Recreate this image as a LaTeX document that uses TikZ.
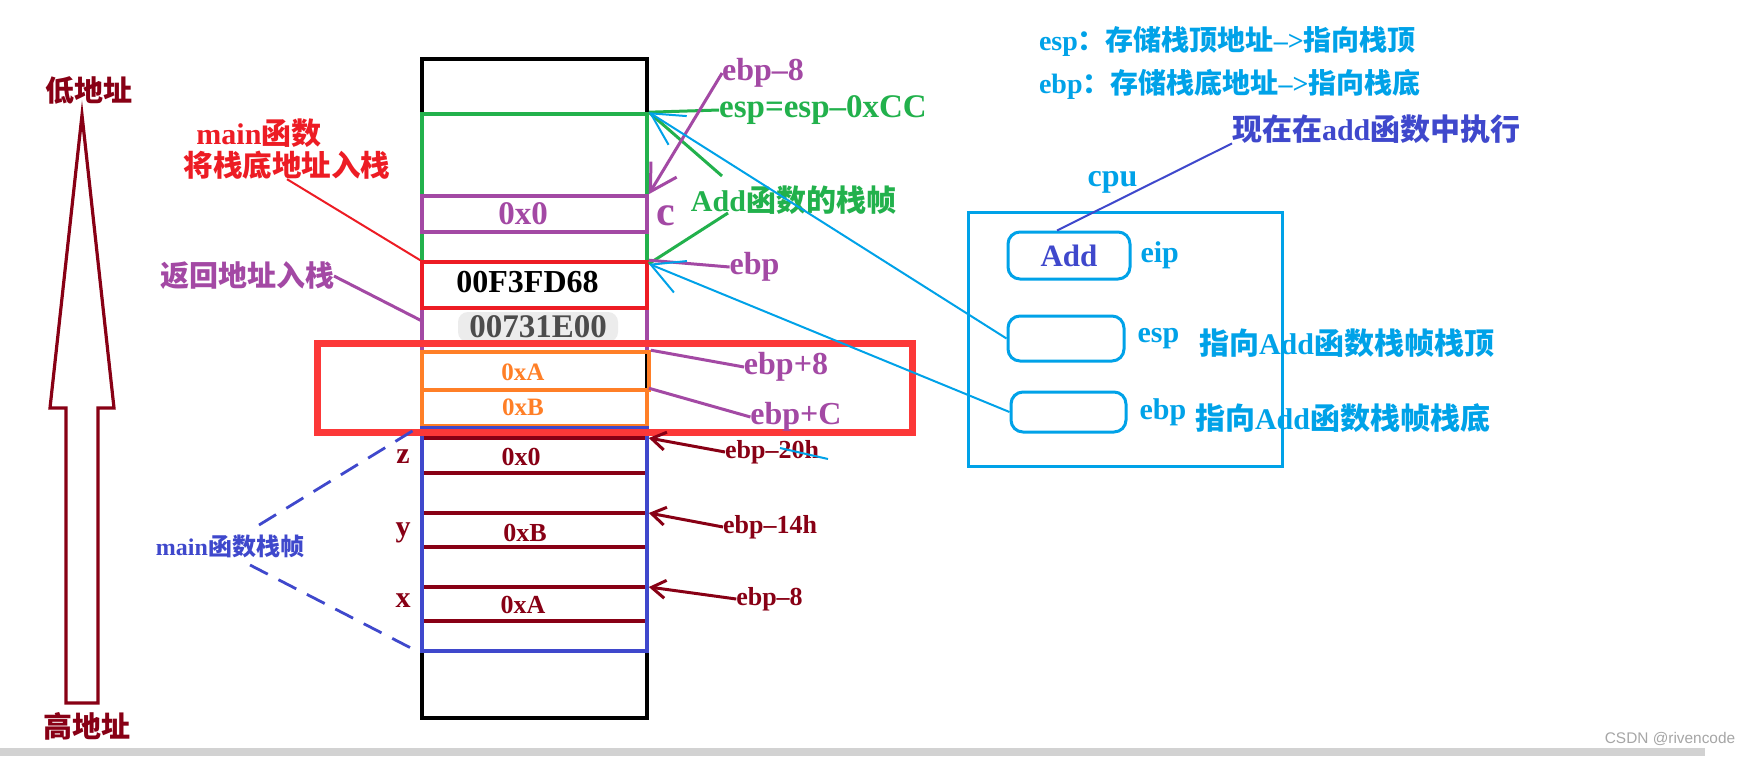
\documentclass[tikz,border=0pt]{standalone}
\usepackage{fontspec}
\usepackage{xcolor}
\usepackage{tikz}
\setmainfont{Liberation Serif}
\setsansfont{Liberation Sans}
\newfontfamily\zhfont{Noto Sans CJK SC}
\newcommand{\zh}[1]{{\zhfont #1}}
\newcommand{\setsz}[1]{\fontsize{#1}{#1}\selectfont}
\usetikzlibrary{
    positioning,
    calc,
    arrows.meta
}
\definecolor{dred}{RGB}{136,0,21}
\definecolor{pgreen}{RGB}{34,177,76}
\definecolor{ppurple}{RGB}{163,73,164}
\definecolor{pred}{RGB}{237,28,36}
\definecolor{porange}{RGB}{255,127,39}
\definecolor{pblue}{RGB}{63,72,204}
\definecolor{pcyan}{RGB}{0,162,232}
\definecolor{hired}{RGB}{252,56,56}
\tikzset{
  basic/.style = {
      inner sep=0pt,
      outer sep=0pt,
      font=\bfseries
  },
  tag/.style = {
      basic,
      align=center
  },
  cell/.style = {
      draw,
      rectangle,
      line width=1.8pt,
      minimum width=112.5pt,
      inner sep=0pt
  },
  slot/.style = {
      draw=pcyan,
      rectangle,
      line width=1.5pt,
      rounded corners=6pt,
      inner sep=0pt
  },
  regname/.style = {
      basic,
      text=pcyan,
      font=\bfseries\setsz{15}
  },
  wire/.style = {
      line width=1pt
  },
  cyanarrow/.style = {
      wire,
      draw=pcyan,
      -{Straight Barb[length=16pt,width=17pt]}
  },
  purplearrow/.style = {
      wire,
      draw=ppurple,
      -{Straight Barb[length=13pt,width=15pt]}
  },
  redarrow/.style = {
      line width=1.5pt,
      draw=dred,
      -{Straight Barb[length=7pt,width=9pt]}
  }
}
\begin{document}
\begin{tikzpicture}[x=0.5pt, y=-0.5pt, node distance=6pt]
    \useasboundingbox (0,0) rectangle (1748,756);
    \fill[white] (0,0) rectangle (1748,756);
    \fill[gray!35] (0,748) rectangle (1705,756);
    \node[basic, font=\sffamily\setsz{7.7}, text=gray!70] (mark) at (1670,739) {CSDN @rivencode};
    % Address arrow
    \draw[dred, line width=1.6pt]
        (66,703) -- (66,408) -- (50,408) -- (82,115) -- (114,408) -- (98,408) -- (98,703) -- cycle;
    \node[tag, text=dred, font=\bfseries\setsz{14.5}] (low) at (89,91) {\zh{低地址}};
    \node[tag, text=dred, font=\bfseries\setsz{14.5}] (high) at (87,726) {\zh{高地址}};
    % Stack
    \node[cell, line width=2pt, minimum height=329.5pt] (stack) at (534.5,388.5) {};
    \node[cell, draw=pgreen, minimum height=74pt] (addframe) at (534.5,188) {};
    \node[cell, draw=ppurple, minimum height=18pt] (ccell) at (534.5,214) {};
    \node[cell, draw=ppurple, minimum height=22pt] (retcell) at (534.5,330) {};
    \node[cell, draw=pred, minimum height=23pt] (ebpcell) at (534.5,285) {};
    \node[cell, draw=porange, minimum height=19pt, minimum width=113.5pt] (acell) at (535.5,371) {};
    \node[cell, draw=porange, minimum height=18pt] (bcell) at (534.5,408) {};
    \node[cell, draw=pblue, minimum height=111.5pt] (mainframe) at (534.5,539.5) {};
    \foreach \yy in {438,473,513,547,587,621}
        \draw[dred, line width=1.8pt] (424,\yy) -- (645,\yy);
    % Values
    \node[tag, text=ppurple, font=\bfseries\setsz{16.5}] (cval) at (523,214) {0x0};
    \node[tag, font=\bfseries\setsz{16}] (ebpval) at (527.5,282) {00F3FD68};
    \node[tag, fill=gray!15, rounded corners=5pt, minimum width=80pt, minimum height=15pt,
          text=black!70, font=\bfseries\setsz{16.5}] (retval) at (538,327) {00731E00};
    \node[tag, text=porange, font=\bfseries\setsz{12.5}] (aval) at (523,372) {0xA};
    \node[tag, text=porange, font=\bfseries\setsz{12.5}] (bval) at (523,407) {0xB};
    \node[tag, text=dred, font=\bfseries\setsz{13}] (zval) at (521,457) {0x0};
    \node[tag, text=dred, font=\bfseries\setsz{13}] (yval) at (525,533) {0xB};
    \node[tag, text=dred, font=\bfseries\setsz{13}] (xval) at (523,605) {0xA};
    \node[tag, text=dred, font=\bfseries\setsz{15}] (zname) at (403,457) {z};
    \node[tag, text=dred, font=\bfseries\setsz{15}] (yname) at (403,533) {y};
    \node[tag, text=dred, font=\bfseries\setsz{15}] (xname) at (403,601) {x};
    % Highlight
    \node[draw=hired, line width=3.5pt, minimum width=297.5pt, minimum height=44.5pt] (focus) at (614.5,387.5) {};
    % Labels
    \node[tag, text=pred, font=\bfseries\setsz{15}] (mainfn) at (259,133) {main\zh{函数}};
    \node[tag, text=pred, font=\bfseries\setsz{14.75}] (pushebp) at (287,165) {\zh{将栈底地址入栈}};
    \node[tag, text=ppurple, font=\bfseries\setsz{14.5}] (retpush) at (247,276) {\zh{返回地址入栈}};
    \node[tag, text=pblue, font=\bfseries\setsz{12}] (mainfr) at (230,546) {main\zh{函数栈帧}};
    \node[tag, text=ppurple, font=\bfseries\setsz{16}] (ebpm8) at (763,73) {ebp--8};
    \node[tag, text=pgreen, font=\bfseries\setsz{16.5}] (espcc) at (823,110) {esp=esp--0xCC};
    \node[tag, text=pgreen, font=\bfseries\setsz{15}] (addlbl) at (793.5,200) {Add\zh{函数的栈帧}};
    \node[tag, text=ppurple, font=\bfseries\setsz{21}] (cname) at (666,216) {c};
    \node[tag, text=ppurple, font=\bfseries\setsz{16}] (ebplbl) at (754.5,267) {ebp};
    \node[tag, text=ppurple, font=\bfseries\setsz{16}] (ebpp8) at (786,367) {ebp+8};
    \node[tag, text=ppurple, font=\bfseries\setsz{16}] (ebppc) at (796,417) {ebp+C};
    \node[tag, text=dred, font=\bfseries\setsz{13}] (ebp20) at (772,452) {ebp--20h};
    \node[tag, text=dred, font=\bfseries\setsz{13}] (ebp14) at (770,527) {ebp--14h};
    \node[tag, text=dred, font=\bfseries\setsz{13}] (ebp8b) at (769.5,599) {ebp--8};
    % Legend
    \node[tag, anchor=west, text=pcyan, font=\bfseries\setsz{14}] (esptext) at (1039,41) {esp\zh{：存储栈顶地址}-->\zh{指向栈顶}};
    \node[tag, anchor=west, text=pcyan, font=\bfseries\setsz{14}] (ebptext) at (1039,84) {ebp\zh{：存储栈底地址}-->\zh{指向栈底}};
    % CPU
    \node[draw=pcyan, line width=1.5pt, minimum width=157pt, minimum height=127pt] (cpu) at (1125,339) {};
    \node[regname, font=\bfseries\setsz{16}] (cpulbl) at (1112.5,182) {cpu};
    \node[slot, minimum width=61pt, minimum height=23.5pt, text=pblue, font=\bfseries\setsz{15.5}] (eipslot) at (1069,255.5) {Add};
    \node[slot, minimum width=58pt, minimum height=22.5pt] (espslot) at (1066,338.5) {};
    \node[slot, minimum width=57.5pt, minimum height=20pt] (ebpslot) at (1068.5,412) {};
    \node[regname, right=4.5pt of eipslot] (eipreg) {eip};
    \node[regname, right=6pt of espslot] (espreg) {esp};
    \node[regname, right=6pt of ebpslot] (ebpreg) {ebp};
    \node[tag, anchor=west, text=pcyan, font=\bfseries\setsz{15}] (espnote) at (1199,343) {\zh{指向}Add\zh{函数栈帧栈顶}};
    \node[tag, anchor=west, text=pcyan, font=\bfseries\setsz{15}] (ebpnote) at (1195,418) {\zh{指向}Add\zh{函数栈帧栈底}};
    \node[tag, anchor=west, text=pblue, font=\bfseries\setsz{15}] (nownote) at (1232,129) {\zh{现在在}add\zh{函数中执行}};
    % Edges
    \coordinate (retpt) at (422,321);
    \coordinate (gtop) at (722,176);
    \coordinate (gbot) at (728,213);
    \coordinate (dtop) at (259,525);
    \coordinate (dbot) at (250,565);
    \path[draw, pred, wire] (pushebp.south) -- (ebpcell.north west);
    \path[draw, ppurple, line width=1.5pt] (retpush.east) -- (retpt);
    \path[draw, pblue, line width=1.4pt, dash pattern=on 10pt off 6pt]
        (dtop) -- (mainframe.north west)
        (dbot) -- (mainframe.south west);
    \path[draw, pgreen, line width=1.5pt]
        (espcc.west) -- (addframe.north east)
        (gtop) -- (addframe.north east)
        (gbot) -- (addframe.south east);
    \draw[purplearrow, line width=1.5pt] (ebpm8.west) -- (ccell.north east);
    \path[draw, ppurple, line width=1.5pt]
        (ebplbl.west) -- (ebpcell.north east)
        (ebpp8.west) -- (acell.north east)
        (ebppc.west) -- (bcell.north east);
    \draw[redarrow] (ebp20.west) -- (mainframe.east |- 0,438);
    \draw[redarrow] (ebp14.west) -- (mainframe.east |- 0,513);
    \draw[redarrow] (ebp8b.west) -- (mainframe.east |- 0,587);
    \draw[pcyan, wire] (780,448) -- (828,459);
    \draw[cyanarrow] (espslot.west) -- (addframe.north east);
    \draw[cyanarrow] (ebpslot.west) -- (addframe.south east);
    \path[draw, pblue, wire] (nownote.south west) -- ([xshift=-6pt]eipslot.north);
\end{tikzpicture}
\end{document}
